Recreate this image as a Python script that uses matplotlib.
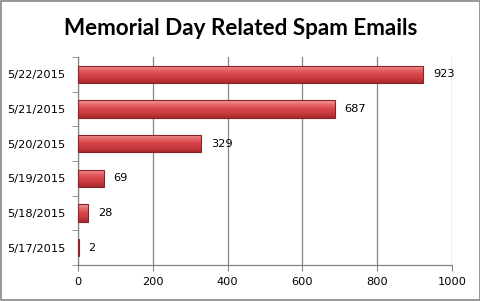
import matplotlib
matplotlib.use("Agg")
import matplotlib.pyplot as plt
from matplotlib.colors import LinearSegmentedColormap
import numpy as np

dates = ["5/17/2015", "5/18/2015", "5/19/2015", "5/20/2015", "5/21/2015", "5/22/2015"]
counts = [2, 28, 69, 329, 687, 923]
xticks = [0, 200, 400, 600, 800, 1000]
title = "Memorial Day Related Spam Emails"

fig = plt.figure(figsize=(4.81, 3.01), dpi=100)
fig.patch.set_facecolor("white")
ax = fig.add_axes([0.162, 0.12, 0.778, 0.69])

y = np.arange(len(dates))
h = 0.5
bars = ax.barh(y, counts, height=h, color="#D94549", edgecolor="#8E2326",
               linewidth=0.8, zorder=3)
cmap = LinearSegmentedColormap.from_list(
    "redgrad", ["#A72B2E", "#C83A3E", "#D94549", "#E5676A", "#F2A0A2"])
grad = np.linspace(0, 1, 64).reshape(-1, 1)
for b in bars:
    x0, y0 = b.get_x(), b.get_y()
    w, hh = b.get_width(), b.get_height()
    im = ax.imshow(grad, cmap=cmap, aspect="auto", origin="lower",
                   extent=(x0, x0 + w, y0, y0 + hh), zorder=3.5)
    im.set_clip_path(b)
    b.set_facecolor("none")
    b.set_zorder(4)

for yi, c in zip(y, counts):
    ax.annotate(str(c), (c, yi), xytext=(7, 0), textcoords="offset points",
                va="center", ha="left", fontsize=8.2, family="DejaVu Sans")

ax.set_xlim(0, 1000)
ax.set_ylim(-0.5, len(dates) - 0.5)
ax.set_xticks(xticks)
ax.set_xticklabels([str(t) for t in xticks], fontsize=8.2)
ax.set_yticks(y)
ax.set_yticklabels(dates, fontsize=8.2)
ax.set_yticks(np.arange(-0.5, len(dates), 1), minor=True)
ax.tick_params(axis="y", which="major", length=0, pad=9)
ax.tick_params(axis="y", which="minor", length=4, color="#868686", direction="out")
ax.tick_params(axis="x", length=4, color="#868686", direction="out", pad=5)
ax.xaxis.grid(True, color="#868686", linewidth=0.9, zorder=0)
for s in ["top", "right"]:
    ax.spines[s].set_visible(False)
for s in ["left", "bottom"]:
    ax.spines[s].set_color("#868686")
    ax.spines[s].set_linewidth(0.9)

fig.text(0.5, 0.905, title, ha="center", va="center", fontsize=16.2,
         fontweight="bold", family="Lato")

border = plt.Rectangle((0.002, 0.003), 0.995, 0.994, transform=fig.transFigure,
                       fill=False, edgecolor="#868686", linewidth=1.2)
fig.patches.append(border)

fig.savefig("out.png", dpi=100)
